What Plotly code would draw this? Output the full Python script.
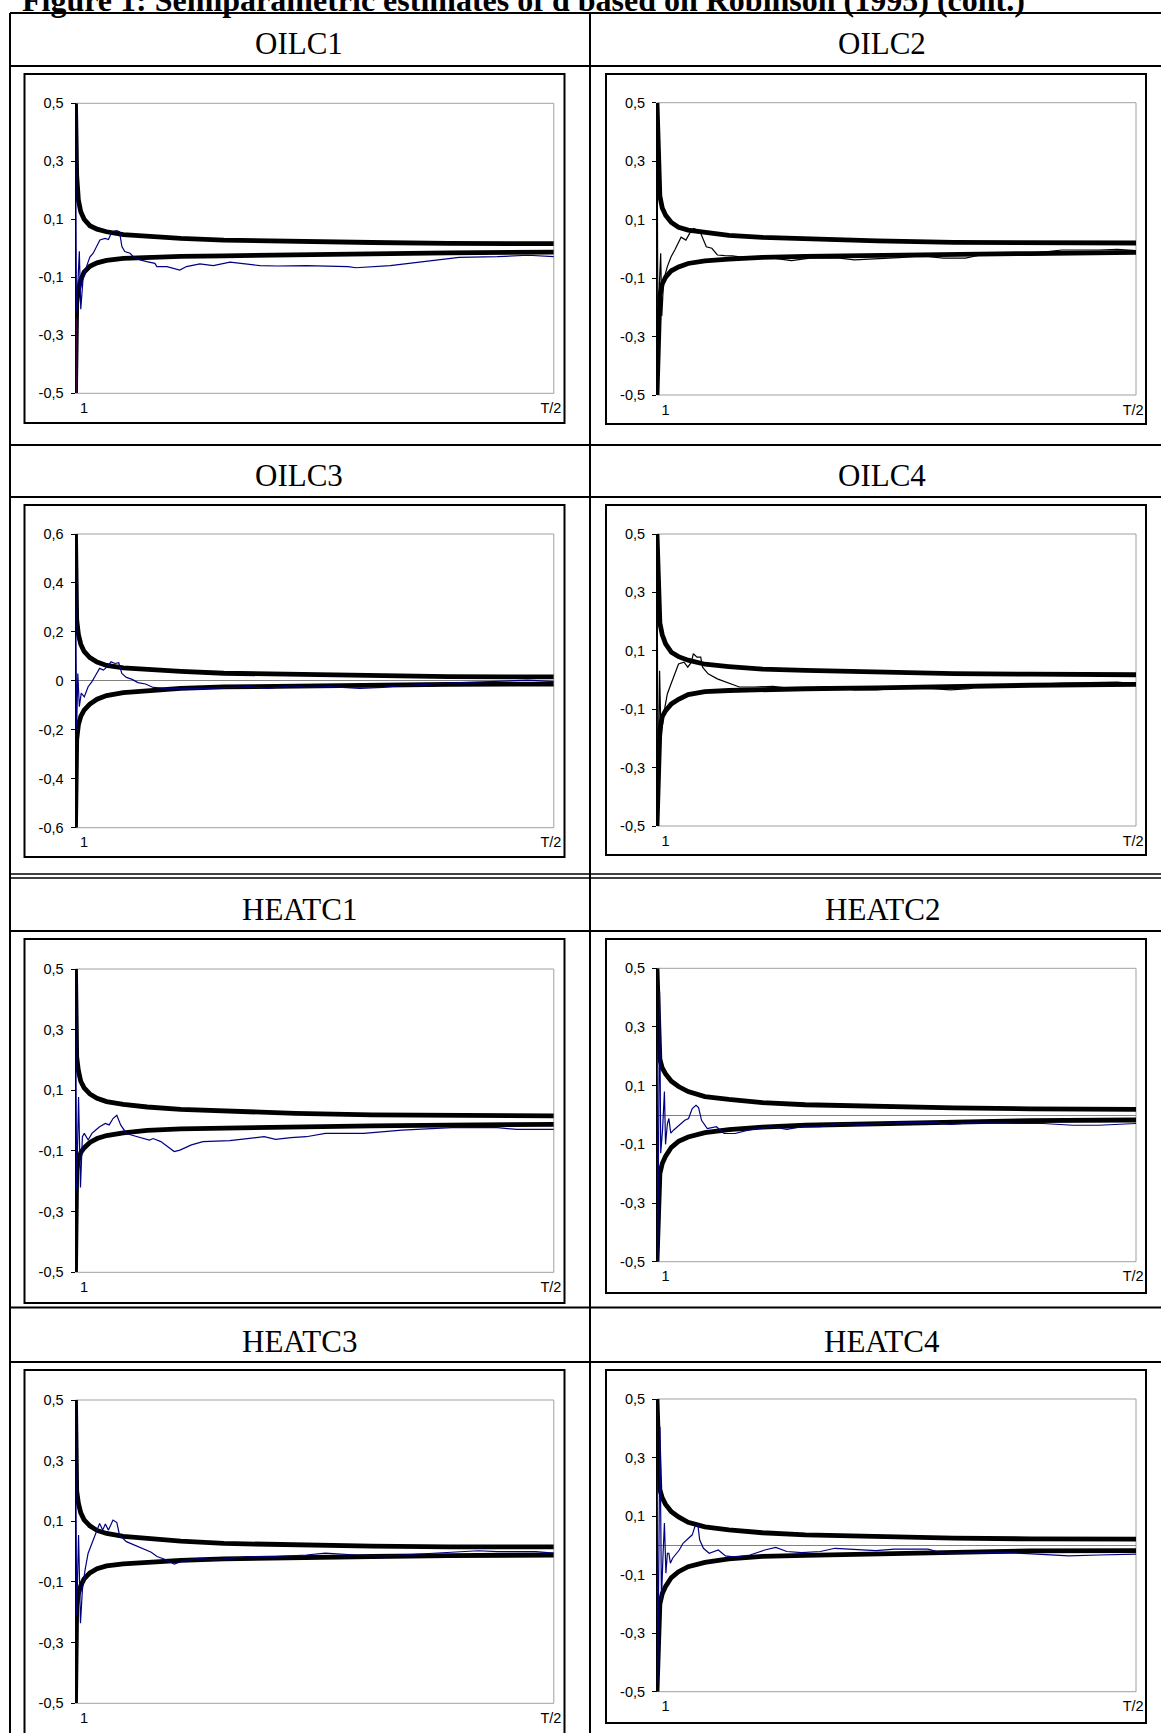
import plotly.graph_objects as go

W, H = 1161, 1733

TITLE = "Figure 1: Semiparametric estimates of d based on Robinson (1995) (cont.)"
PANELS = ["OILC1", "OILC2", "OILC3", "OILC4", "HEATC1", "HEATC2", "HEATC3", "HEATC4"]
X_TICK_TEXT = ["1", "T/2"]

# x is expressed as percent of T/2 (0 = bandwidth 1, 100 = T/2)
BAND_X = [0, 0.25, 0.6, 1.1, 1.8, 3, 4.5, 6.5, 10, 15, 22, 31, 46, 62, 78, 100]

OILC1_UP = [0.5, 0.25, 0.167, 0.126, 0.1, 0.078, 0.066, 0.057, 0.047, 0.041, 0.034, 0.028, 0.023, 0.02, 0.017, 0.016]
OILC1_LO = [-0.5, -0.19, -0.144, -0.109, -0.082, -0.062, -0.05, -0.042, -0.035, -0.031, -0.028, -0.026, -0.022, -0.019, -0.016, -0.013]
OILC2_UP = [0.5, 0.3, 0.18, 0.14, 0.115, 0.09, 0.074, 0.064, 0.055, 0.046, 0.039, 0.033, 0.027, 0.022, 0.021, 0.02]
OILC2_LO = [-0.5, -0.3, -0.16, -0.12, -0.097, -0.075, -0.062, -0.05, -0.041, -0.035, -0.029, -0.026, -0.022, -0.019, -0.016, -0.012]
OILC3_UP = [0.6, 0.25, 0.19, 0.15, 0.12, 0.095, 0.077, 0.063, 0.053, 0.046, 0.039, 0.031, 0.025, 0.021, 0.017, 0.016]
OILC3_LO = [-0.6, -0.24, -0.18, -0.145, -0.12, -0.095, -0.075, -0.06, -0.048, -0.04, -0.031, -0.025, -0.02, -0.017, -0.014, -0.013]
OILC4_UP = [0.5, 0.4, 0.195, 0.155, 0.124, 0.095, 0.08, 0.068, 0.054, 0.046, 0.037, 0.033, 0.027, 0.022, 0.02, 0.018]
OILC4_LO = [-0.5, -0.3, -0.17, -0.125, -0.105, -0.082, -0.066, -0.05, -0.04, -0.036, -0.032, -0.03, -0.027, -0.021, -0.018, -0.015]
HEATC1_UP = [0.5, 0.21, 0.165, 0.13, 0.108, 0.088, 0.074, 0.063, 0.054, 0.045, 0.037, 0.031, 0.024, 0.019, 0.017, 0.016]
HEATC1_LO = [-0.5, -0.165, -0.13, -0.105, -0.09, -0.072, -0.059, -0.049, -0.04, -0.032, -0.027, -0.024, -0.02, -0.017, -0.015, -0.012]
HEATC2_UP = [0.5, 0.3, 0.19, 0.16, 0.14, 0.115, 0.097, 0.08, 0.063, 0.053, 0.042, 0.035, 0.029, 0.024, 0.021, 0.019]
HEATC2_LO = [-0.5, -0.3, -0.2, -0.165, -0.14, -0.11, -0.09, -0.075, -0.06, -0.05, -0.041, -0.035, -0.029, -0.023, -0.019, -0.017]
HEATC3_UP = [0.5, 0.2, 0.16, 0.128, 0.105, 0.085, 0.07, 0.06, 0.05, 0.043, 0.035, 0.027, 0.022, 0.018, 0.016, 0.016]
HEATC3_LO = [-0.5, -0.18, -0.14, -0.112, -0.09, -0.07, -0.056, -0.047, -0.04, -0.034, -0.029, -0.024, -0.019, -0.016, -0.013, -0.011]
HEATC4_UP = [0.5, 0.3, 0.19, 0.162, 0.14, 0.115, 0.097, 0.079, 0.063, 0.053, 0.043, 0.036, 0.029, 0.025, 0.022, 0.021]
HEATC4_LO = [-0.5, -0.3, -0.2, -0.165, -0.14, -0.11, -0.09, -0.073, -0.058, -0.046, -0.038, -0.034, -0.029, -0.024, -0.019, -0.018]

# estimates of d
OILC1_X = [0, 0.2, 0.5, 0.8, 1.1, 1.6, 2.3, 3.0, 3.7, 4.4, 5.1, 6.2, 6.9, 7.6, 8.6, 9.2, 9.7, 10.3, 11.4, 12.1,
           13.5, 14.9, 16.6, 17.0, 19.1, 21.8, 23.2, 26.0, 28.8, 32.3, 35.1, 38.6, 42.1, 48.2, 57.0, 58.6, 65.8,
           72.2, 80.2, 88.2, 94.6, 100]
OILC1_D = [0.5, -0.22, -0.12, -0.01, -0.21, -0.1, -0.063, -0.03, -0.017, 0.006, 0.029, 0.034, 0.03, 0.057, 0.061,
           0.057, 0.006, -0.011, -0.017, -0.029, -0.04, -0.046, -0.052, -0.063, -0.063, -0.075, -0.063, -0.054,
           -0.06, -0.048, -0.054, -0.06, -0.061, -0.06, -0.063, -0.067, -0.06, -0.046, -0.031, -0.029, -0.024, -0.029]

OILC2_X = [0, 0.23, 0.5, 0.77, 1.0, 1.39, 2.17, 2.94, 3.71, 4.49, 5.03, 6.03, 6.81, 7.58, 8.35, 9.13, 10.29, 11.45,
           12.61, 14.15, 15.7, 18.0, 21.1, 24.2, 28.1, 31.9, 38.1, 41.2, 45.9, 50.5, 53.6, 56.7, 59.8, 64.4, 67.5,
           72.9, 76.8, 84.5, 92.3, 96.1, 100]
OILC2_D = [0.5, -0.45, -0.12, -0.015, -0.23, -0.107, -0.06, -0.027, -0.004, 0.019, 0.04, 0.03, 0.053, 0.07, 0.065,
           0.053, 0.007, 0.002, -0.021, -0.023, -0.024, -0.029, -0.027, -0.032, -0.04, -0.032, -0.032, -0.038,
           -0.035, -0.03, -0.027, -0.027, -0.032, -0.032, -0.021, -0.021, -0.018, -0.004, -0.004, -0.002, -0.006]

OILC3_X = [0, 0.24, 0.48, 0.8, 1.2, 1.84, 2.64, 3.44, 4.24, 5.04, 5.84, 6.64, 7.44, 8.24, 9.04, 9.68, 10.64, 11.84,
           13.04, 14.64, 16.24, 18.64, 22.64, 28.24, 36.24, 40.24, 45.04, 48.24, 53.04, 59.44, 64.24, 67.44,
           76.24, 88.24, 94.64, 100]
OILC3_D = [0.48, -0.2, 0.03, -0.106, -0.05, -0.065, -0.024, -0.003, 0.024, 0.051, 0.044, 0.058, 0.078, 0.071,
           0.074, 0.03, 0.014, 0.006, -0.007, -0.013, -0.027, -0.031, -0.031, -0.031, -0.024, -0.031, -0.02,
           -0.027, -0.024, -0.031, -0.027, -0.021, -0.01, -0.003, 0.003, -0.003]

OILC4_X = [0, 0.23, 0.54, 0.85, 1.39, 2.17, 2.94, 3.71, 4.49, 5.65, 6.42, 7.19, 7.58, 8.35, 9.13, 9.51, 10.67, 12.6,
           14.5, 15.7, 17.2, 20.3, 24.2, 28.8, 34.3, 38.1, 41.2, 45.9, 51.3, 57.5, 61.3, 65.2, 67.5, 76.8, 84.5,
           96.1, 100]
OILC4_D = [0.5, -0.47, 0.032, -0.2, -0.116, -0.047, -0.013, 0.021, 0.055, 0.061, 0.044, 0.061, 0.09, 0.078, 0.078,
           0.044, 0.021, 0.004, -0.007, -0.015, -0.024, -0.024, -0.022, -0.03, -0.024, -0.027, -0.034, -0.034,
           -0.027, -0.03, -0.034, -0.03, -0.019, -0.017, -0.011, -0.007, -0.013]

HEATC1_X = [0, 0.24, 0.64, 1.04, 1.44, 1.84, 2.64, 3.44, 4.24, 5.04, 6.24, 7.04, 7.84, 8.64, 9.44, 10.64, 11.84,
            13.04, 15.44, 16.24, 17.84, 20.64, 21.84, 24.24, 26.64, 32.24, 36.24, 39.44, 41.84, 45.04, 48.24,
            52.24, 60.24, 64.24, 68.24, 78.64, 88.24, 92.24, 100]
HEATC1_D = [0.5, -0.23, 0.078, -0.22, -0.053, -0.042, -0.064, -0.042, -0.031, -0.02, -0.009, -0.014, 0.007, 0.018,
            -0.014, -0.042, -0.048, -0.053, -0.064, -0.059, -0.069, -0.102, -0.097, -0.08, -0.069, -0.066, -0.059,
            -0.053, -0.062, -0.056, -0.053, -0.042, -0.042, -0.036, -0.031, -0.023, -0.023, -0.029, -0.029]

HEATC2_X = [0, 0.16, 0.54, 0.78, 1.16, 1.55, 1.78, 2.17, 2.48, 2.87, 3.49, 4.26, 5.04, 5.81, 6.59, 7.36, 8.14, 8.68,
            9.3, 10.5, 12.4, 14.0, 16.3, 18.6, 20.9, 24.0, 27.1, 30.2, 34.1, 38.0, 42.6, 47.3, 53.5, 58.1, 61.2,
            65.1, 72.9, 80.6, 86.8, 92.2, 100]
HEATC2_D = [0.5, -0.5, 0.42, -0.13, -0.05, 0.08, -0.1, -0.03, -0.012, -0.062, -0.051, -0.04, -0.03, -0.018, -0.012,
            0.022, 0.033, 0.025, -0.018, -0.046, -0.04, -0.063, -0.063, -0.053, -0.046, -0.04, -0.049, -0.04, -0.04,
            -0.029, -0.032, -0.029, -0.024, -0.026, -0.032, -0.027, -0.027, -0.029, -0.035, -0.035, -0.029]

HEATC3_X = [0, 0.24, 0.64, 1.04, 1.44, 2.0, 2.64, 3.44, 4.24, 5.04, 5.68, 6.24, 6.88, 7.84, 8.64, 9.2, 10.64, 12.24,
            13.84, 15.84, 17.04, 18.64, 20.64, 22.64, 25.84, 29.04, 36.24, 41.84, 48.24, 52.24, 58.64, 64.24,
            68.24, 76.24, 84.24, 88.24, 96.24, 100]
HEATC3_D = [0.5, -0.21, 0.055, -0.236, -0.126, -0.06, -0.005, 0.027, 0.06, 0.093, 0.071, 0.091, 0.071, 0.104, 0.096,
            0.055, 0.033, 0.022, 0.011, -0.002, -0.016, -0.025, -0.041, -0.03, -0.022, -0.027, -0.016, -0.016,
            -0.011, -0.005, -0.011, -0.014, -0.011, -0.005, 0.003, 0.0, 0.0, -0.005]

HEATC4_X = [0, 0.16, 0.62, 0.93, 1.24, 1.55, 1.86, 2.17, 2.48, 2.79, 3.26, 3.88, 4.65, 5.43, 6.59, 7.36, 7.91, 8.53,
            8.91, 9.69, 10.9, 12.8, 14.3, 16.3, 19.4, 22.5, 24.8, 27.1, 30.2, 34.1, 37.2, 41.1, 45.7, 49.6, 56.6,
            59.7, 65.1, 72.9, 78.3, 86.0, 92.2, 100]
HEATC4_D = [0.5, -0.47, 0.405, -0.19, -0.04, 0.076, -0.095, -0.027, -0.027, -0.061, -0.044, -0.033, -0.016, 0.007,
            0.024, 0.036, 0.064, 0.07, 0.019, -0.01, -0.027, -0.016, -0.036, -0.04, -0.033, -0.016, -0.007, -0.021,
            -0.025, -0.021, -0.01, -0.013, -0.018, -0.013, -0.013, -0.027, -0.027, -0.025, -0.029, -0.036, -0.033,
            -0.03]

# magenta start of the lower band in OILC1
OILC1_MAG_X = [0, 0]
OILC1_MAG_Y = [-0.5, -0.24]

YT5_VALS = [0.5, 0.3, 0.1, -0.1, -0.3, -0.5]
YT5_TEXT = ["0,5", "0,3", "0,1", "-0,1", "-0,3", "-0,5"]
YT6_VALS = [0.6, 0.4, 0.2, 0, -0.2, -0.4, -0.6]
YT6_TEXT = ["0,6", "0,4", "0,2", "0", "-0,2", "-0,4", "-0,6"]

NAVY = "#000080"
BLACK = "#000000"

series = [
    (OILC1_X, OILC1_D, OILC1_UP, OILC1_LO, NAVY, 0.5, False),
    (OILC2_X, OILC2_D, OILC2_UP, OILC2_LO, BLACK, 0.5, False),
    (OILC3_X, OILC3_D, OILC3_UP, OILC3_LO, NAVY, 0.6, True),
    (OILC4_X, OILC4_D, OILC4_UP, OILC4_LO, BLACK, 0.5, False),
    (HEATC1_X, HEATC1_D, HEATC1_UP, HEATC1_LO, NAVY, 0.5, False),
    (HEATC2_X, HEATC2_D, HEATC2_UP, HEATC2_LO, NAVY, 0.5, True),
    (HEATC3_X, HEATC3_D, HEATC3_UP, HEATC3_LO, NAVY, 0.5, False),
    (HEATC4_X, HEATC4_D, HEATC4_UP, HEATC4_LO, NAVY, 0.5, True),
]

# ---- geometry (pixels) ----
COL_X = [(75.5, 553.8), (657.0, 1136.0)]
PLOT_Y = [(103.3, 393.3), (102.7, 395.0), (534.0, 827.7), (534.0, 826.0),
          (969.0, 1272.3), (968.3, 1261.7), (1400.0, 1703.3), (1399.0, 1691.7)]
FRAMES = [(24.5, 74, 564.5, 423), (606, 74, 1146, 424), (24.5, 505, 564.5, 857), (606, 505, 1146, 855),
          (24.5, 939, 564.5, 1303), (606, 939, 1146, 1293), (24.5, 1370, 564.5, 1750), (606, 1370, 1146, 1723)]
HEADER_Y = [44, 475, 909, 1341]
COL_CENTER = [299, 882]


def px(x):
    return x / W


def py(y):
    return 1 - y / H


fig = go.Figure()
layout = dict(width=W, height=H, autosize=False, margin=dict(l=0, r=0, t=0, b=0, pad=0, autoexpand=False),
              paper_bgcolor="white", plot_bgcolor="white", showlegend=False)
shapes = []
annotations = []
tick_font = dict(family="Liberation Sans, Arial, sans-serif", size=14.5, color="black")

for i, (xs, ds, up, lo, col, lim, zl) in enumerate(series):
    n = i + 1
    xa = "x" if n == 1 else f"x{n}"
    ya = "y" if n == 1 else f"y{n}"
    c = i % 2
    x0, x1 = COL_X[c]
    t, b = PLOT_Y[i]
    fig.add_trace(go.Scatter(x=BAND_X, y=up, mode="lines", line=dict(color="black", width=4.8),
                             xaxis=xa, yaxis=ya, hoverinfo="skip"))
    fig.add_trace(go.Scatter(x=BAND_X, y=lo, mode="lines", line=dict(color="black", width=4.8),
                             xaxis=xa, yaxis=ya, hoverinfo="skip"))
    fig.add_trace(go.Scatter(x=xs, y=ds, mode="lines", line=dict(color=col, width=1.2),
                             xaxis=xa, yaxis=ya))
    if n == 1:
        fig.add_trace(go.Scatter(x=OILC1_MAG_X, y=OILC1_MAG_Y, mode="lines",
                                 line=dict(color="#ff00ff", width=1.5), xaxis=xa, yaxis=ya))
    key = "" if n == 1 else str(n)
    layout["xaxis" + key] = dict(domain=[px(x0), px(x1)], range=[0, 100], anchor=ya, showgrid=False,
                                 zeroline=False, showline=False, tickvals=[1.8, 99.4], ticktext=X_TICK_TEXT,
                                 ticks="", tickfont=tick_font, ticklabelstandoff=4, automargin=False,
                                 fixedrange=True)
    tv, tt = (YT6_VALS, YT6_TEXT) if lim == 0.6 else (YT5_VALS, YT5_TEXT)
    layout["yaxis" + key] = dict(domain=[py(b), py(t)], range=[-lim, lim], anchor=xa, showgrid=False,
                                 zeroline=zl, zerolinecolor="#808080", zerolinewidth=1,
                                 showline=True, linecolor="black", linewidth=1, ticks="outside",
                                 ticklen=4, tickcolor="black", tickwidth=1, tickvals=tv, ticktext=tt,
                                 tickfont=tick_font, ticklabelstandoff=4, automargin=False, fixedrange=True)
    # plot area border
    shapes.append(dict(type="rect", xref=f"{xa} domain", yref=f"{ya} domain", x0=0, x1=1, y0=0, y1=1,
                       line=dict(color="#a0a0a0", width=1), layer="below"))
    # chart frame
    fx0, fy0, fx1, fy1 = FRAMES[i]
    shapes.append(dict(type="rect", xref="paper", yref="paper", x0=px(fx0), x1=px(fx1), y0=py(fy1),
                       y1=py(fy0), line=dict(color="black", width=2)))
    # header text
    annotations.append(dict(text=PANELS[i], x=px(COL_CENTER[c]), y=py(HEADER_Y[i // 2]), xref="paper",
                            yref="paper", showarrow=False, xanchor="center", yanchor="middle",
                            font=dict(family="Liberation Serif, Times New Roman, serif", size=31,
                                      color="black")))

# table lines
for yy, wdt in [(13, 2), (66, 2), (445, 2), (497, 2), (874, 1.5), (878, 1.5), (931, 2), (1307.5, 2), (1362, 2)]:
    shapes.append(dict(type="line", xref="paper", yref="paper", x0=px(10), x1=px(1200), y0=py(yy), y1=py(yy),
                       line=dict(color="black", width=wdt)))
for xx in [10, 590]:
    shapes.append(dict(type="line", xref="paper", yref="paper", x0=px(xx), x1=px(xx), y0=py(13), y1=py(1760),
                       line=dict(color="black", width=2)))

layout["title"] = dict(text="<b>" + TITLE + "</b>", x=px(22), xref="container", xanchor="left",
                       y=1.0, yref="container", yanchor="middle", automargin=False,
                       font=dict(family="Liberation Serif, Times New Roman, serif", size=32, color="black"))
layout["shapes"] = shapes
layout["annotations"] = annotations
fig.update_layout(**layout)
fig.write_html("out.html", config={"responsive": False, "displayModeBar": False},
               post_script="document.body.style.margin='0';document.body.style.overflow='hidden';")
